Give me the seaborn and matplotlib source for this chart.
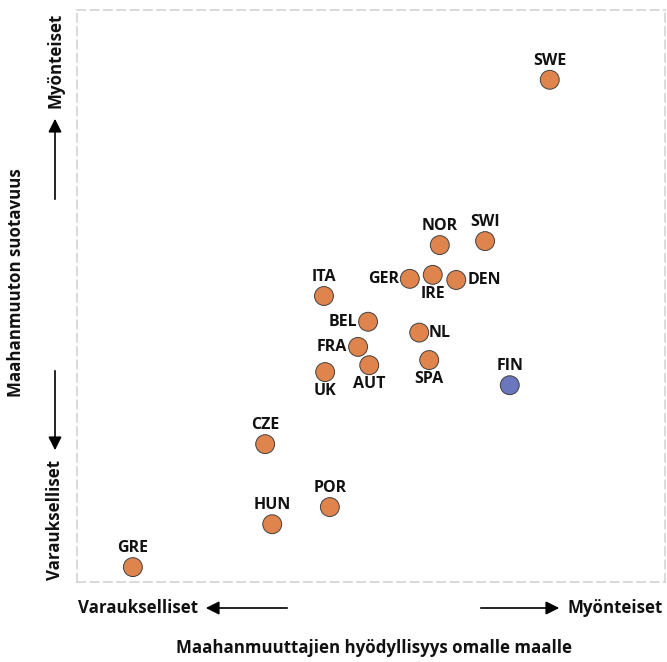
import numpy as np
import pandas as pd
import matplotlib
matplotlib.use("Agg")
import matplotlib.pyplot as plt
import seaborn as sns

# Data (0-10 scales, no units on the original)
countries = ["SWE", "NOR", "SWI", "GER", "IRE", "DEN", "ITA", "BEL", "NL",
             "FRA", "AUT", "SPA", "UK", "FIN", "CZE", "POR", "HUN", "GRE"]
benefit = [8.04, 6.17, 6.94, 5.66, 6.05, 6.45, 4.20, 4.95, 5.82,
           4.78, 4.97, 5.99, 4.22, 7.36, 3.20, 4.30, 3.32, 0.95]
desirability = [8.78, 5.89, 5.96, 5.30, 5.37, 5.28, 5.00, 4.55, 4.36,
                4.11, 3.79, 3.88, 3.67, 3.44, 2.41, 1.31, 1.01, 0.26]
group = ["muu"] * 13 + ["Suomi"] + ["muu"] * 4

df = pd.DataFrame({"maa": countries, "x": benefit, "y": desirability, "ryhma": group})

# label placement (offset in points, alignment)
label_pos = {
    "SWE": (0, 8, "center", "bottom"), "NOR": (0, 8, "center", "bottom"),
    "SWI": (0, 8, "center", "bottom"), "GER": (-8, 0, "right", "center"),
    "IRE": (0, -8, "center", "top"), "DEN": (8, 0, "left", "center"),
    "ITA": (0, 8, "center", "bottom"), "BEL": (-8, 0, "right", "center"),
    "NL": (7, 0, "left", "center"), "FRA": (-8, 0, "right", "center"),
    "AUT": (0, -8, "center", "top"), "SPA": (0, -8, "center", "top"),
    "UK": (0, -8, "center", "top"), "FIN": (0, 8, "center", "bottom"),
    "CZE": (0, 8, "center", "bottom"), "POR": (0, 8, "center", "bottom"),
    "HUN": (0, 8, "center", "bottom"), "GRE": (0, 8, "center", "bottom"),
}

sns.set_style("white")
plt.rcParams["font.family"] = ["Open Sans", "DejaVu Sans"]

fig = plt.figure(figsize=(6.67, 6.62), dpi=100)
ax = fig.add_axes([77 / 667, 80 / 662, 588 / 667, 572 / 662])

sns.scatterplot(data=df, x="x", y="y", hue="ryhma",
                palette={"muu": "#E0844E", "Suomi": "#6A76BE"},
                s=185, edgecolor="#404040", linewidth=0.7, legend=False, ax=ax, zorder=3)

for _, r in df.iterrows():
    dx, dy, ha, va = label_pos[r["maa"]]
    ax.annotate(r["maa"], (r["x"], r["y"]), xytext=(dx, dy), textcoords="offset points",
                ha=ha, va=va, fontsize=11.5, fontweight="bold", color="#111111")

ax.set_xlim(0, 10)
ax.set_ylim(0, 10)
ax.set_xticks([])
ax.set_yticks([])
ax.set_xlabel("")
ax.set_ylabel("")
for sp in ax.spines.values():
    sp.set_visible(True)
    sp.set_color("#d4d4d4")
    sp.set_linestyle((0, (5, 3)))
    sp.set_linewidth(1.2)

# axis annotations outside the plot area (figure pixels)
W, H = 667, 662
def fx(px):
    return px / W
def fy(py):
    return 1 - py / H

txt = dict(fontsize=12.2, fontweight="bold", color="#111111")
arrow = dict(arrowstyle="-|>,head_length=0.8,head_width=0.4", color="black", lw=1.2)

fig.text(fx(55), fy(60), "Myönteiset", rotation=90, ha="center", va="center", **txt)
fig.text(fx(55), fy(520), "Varaukselliset", rotation=90, ha="center", va="center", **txt)
fig.text(fx(16), fy(283), "Maahanmuuton suotavuus", rotation=90, ha="center", va="center", **txt)
ax.annotate("", xy=(fx(55), fy(116)), xytext=(fx(55), fy(202)),
            xycoords="figure fraction", textcoords="figure fraction", arrowprops=arrow)
ax.annotate("", xy=(fx(55), fy(453)), xytext=(fx(55), fy(368)),
            xycoords="figure fraction", textcoords="figure fraction", arrowprops=arrow)

fig.text(fx(138), fy(608), "Varaukselliset", ha="center", va="center", **txt)
fig.text(fx(615), fy(608), "Myönteiset", ha="center", va="center", **txt)
fig.text(fx(374), fy(648), "Maahanmuuttajien hyödyllisyys omalle maalle", ha="center", va="center", **txt)
ax.annotate("", xy=(fx(203), fy(608)), xytext=(fx(290), fy(608)),
            xycoords="figure fraction", textcoords="figure fraction", arrowprops=arrow)
ax.annotate("", xy=(fx(562), fy(608)), xytext=(fx(478), fy(608)),
            xycoords="figure fraction", textcoords="figure fraction", arrowprops=arrow)

fig.savefig("out.png", dpi=100)
